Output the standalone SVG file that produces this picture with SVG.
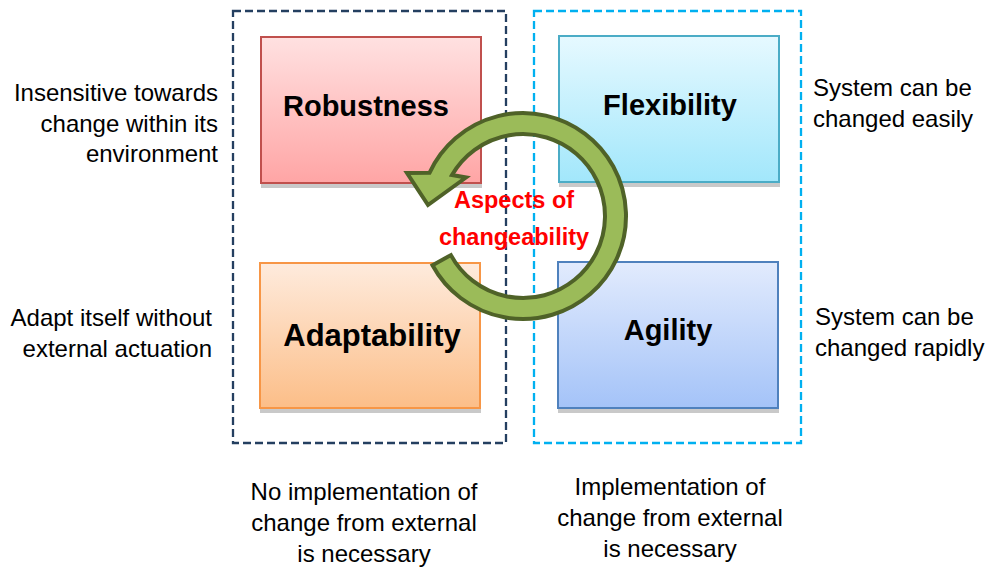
<svg xmlns="http://www.w3.org/2000/svg" width="987" height="569" viewBox="0 0 987 569">
<defs>
<linearGradient id="gR" x1="0" y1="0" x2="0" y2="1"><stop offset="0" stop-color="#FFE1E1"/><stop offset="1" stop-color="#FFA5A5"/></linearGradient>
<linearGradient id="gF" x1="0" y1="0" x2="0" y2="1"><stop offset="0" stop-color="#E6F9FF"/><stop offset="1" stop-color="#A2E7FB"/></linearGradient>
<linearGradient id="gA" x1="0" y1="0" x2="0" y2="1"><stop offset="0" stop-color="#FEEBDD"/><stop offset="1" stop-color="#FCBE88"/></linearGradient>
<linearGradient id="gG" x1="0" y1="0" x2="0" y2="1"><stop offset="0" stop-color="#E2EBFD"/><stop offset="1" stop-color="#A4C3F8"/></linearGradient>
<style>
.lbl{font-family:"Liberation Sans",Arial,sans-serif;font-weight:bold;fill:#000;text-anchor:middle}
.side{font-family:"Liberation Sans",Arial,sans-serif;font-size:24px;fill:#000}
.red{font-family:"Liberation Sans",Arial,sans-serif;font-weight:bold;font-size:23.5px;fill:#FF0000;text-anchor:middle}
.shadow{fill:#C9C9C9}
.dash{fill:none;stroke-width:2.3;stroke-dasharray:8 4}
</style>
</defs>
<rect width="987" height="569" fill="#fff"/>
<g id="group-left">
<rect class="dash" x="233" y="11" width="273" height="432" stroke="#243F60"/>
</g>
<g id="group-right">
<rect class="dash" x="534" y="11" width="267" height="432" stroke="#00B0F0"/>
</g>
<g id="robustness">
<rect class="shadow" x="261" y="184" width="221" height="4"/>
<rect x="261" y="37" width="220" height="146" fill="url(#gR)" stroke="#C0504D" stroke-width="2"/>
<text class="lbl" x="366" y="116" font-size="29">Robustness</text>
</g>
<g id="flexibility">
<rect class="shadow" x="559" y="183" width="221" height="4"/>
<rect x="559" y="36" width="220" height="146" fill="url(#gF)" stroke="#4BACC6" stroke-width="2"/>
<text class="lbl" x="670" y="115" font-size="29">Flexibility</text>
</g>
<g id="adaptability">
<rect class="shadow" x="260" y="409" width="221" height="4"/>
<rect x="260" y="263" width="220" height="145" fill="url(#gA)" stroke="#F79646" stroke-width="2"/>
<text class="lbl" x="372" y="346" font-size="31">Adaptability</text>
</g>
<g id="agility">
<rect class="shadow" x="558" y="409" width="221" height="4"/>
<rect x="558" y="262" width="220" height="146" fill="url(#gG)" stroke="#4F81BD" stroke-width="2"/>
<text class="lbl" x="668" y="340" font-size="29">Agility</text>
</g>
<g id="connectors">
<path d="M432.5,265.2 A103,103 0 1 0 429.5,172.8 L407,173 L428,205 L466,177.5 L452,175 A82,82 0 1 1 450.9,255.1 Z" fill="#9BBB59" stroke="#4F6228" stroke-width="4" stroke-linejoin="miter"/>
</g>
<g id="center-label">
<text class="red" x="514" y="208">Aspects of</text>
<text class="red" x="514" y="245">changeability</text>
</g>
<g id="desc-robustness">
<text class="side" text-anchor="end" x="218" y="101">Insensitive towards</text>
<text class="side" text-anchor="end" x="218" y="131.5">change within its</text>
<text class="side" text-anchor="end" x="218" y="162">environment</text>
</g>
<g id="desc-adaptability">
<text class="side" text-anchor="end" x="212" y="326">Adapt itself without</text>
<text class="side" text-anchor="end" x="212" y="357">external actuation</text>
</g>
<g id="desc-flexibility">
<text class="side" x="813" y="96">System can be</text>
<text class="side" x="813" y="127">changed easily</text>
</g>
<g id="desc-agility">
<text class="side" x="815" y="325">System can be</text>
<text class="side" x="815" y="356">changed rapidly</text>
</g>
<g id="desc-left-bottom">
<text class="side" text-anchor="middle" x="364" y="500">No implementation of</text>
<text class="side" text-anchor="middle" x="364" y="531">change from external</text>
<text class="side" text-anchor="middle" x="364" y="562">is necessary</text>
</g>
<g id="desc-right-bottom">
<text class="side" text-anchor="middle" x="670" y="495">Implementation of</text>
<text class="side" text-anchor="middle" x="670" y="526">change from external</text>
<text class="side" text-anchor="middle" x="670" y="557">is necessary</text>
</g>
</svg>
